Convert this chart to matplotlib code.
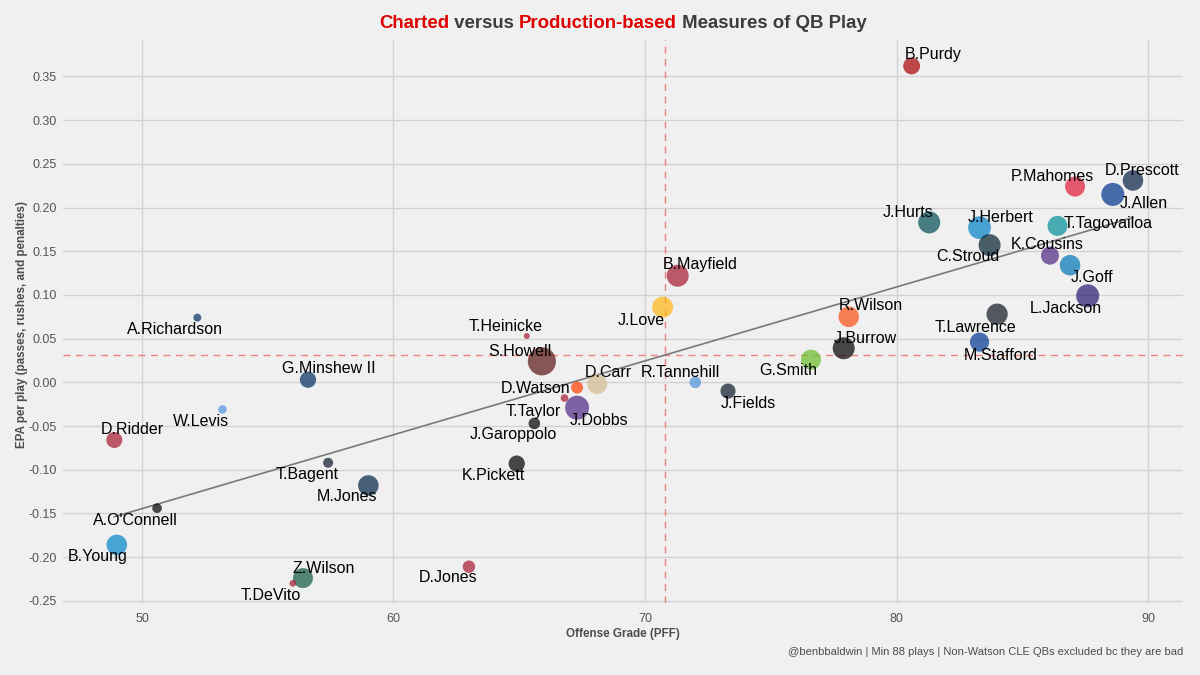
import matplotlib
matplotlib.use("Agg")
import matplotlib.pyplot as plt
import numpy as np

# ---------------- data ----------------
players = ["B.Purdy", "P.Mahomes", "D.Prescott", "J.Allen", "J.Hurts", "J.Herbert",
           "T.Tagovailoa", "C.Stroud", "K.Cousins", "J.Goff", "L.Jackson", "T.Lawrence",
           "M.Stafford", "R.Wilson", "J.Burrow", "G.Smith", "B.Mayfield", "J.Love",
           "T.Heinicke", "S.Howell", "D.Carr", "R.Tannehill", "J.Fields", "D.Watson",
           "T.Taylor", "J.Dobbs", "J.Garoppolo", "K.Pickett", "D.Jones", "A.Richardson",
           "G.Minshew II", "W.Levis", "D.Ridder", "T.Bagent", "M.Jones", "A.O'Connell",
           "B.Young", "Z.Wilson", "T.DeVito"]

offense_grade = [80.6, 87.1, 89.4, 88.6, 81.3, 83.3,
                 86.4, 83.7, 86.1, 86.9, 87.6, 84.0,
                 83.3, 78.1, 77.9, 76.6, 71.3, 70.7,
                 65.3, 65.9, 68.1, 72.0, 73.3, 67.3,
                 66.8, 67.3, 65.6, 64.9, 63.0, 52.2,
                 56.6, 53.2, 48.9, 57.4, 59.0, 50.6,
                 49.0, 56.4, 56.0]

epa_per_play = [0.362, 0.224, 0.231, 0.215, 0.183, 0.177,
                0.179, 0.157, 0.145, 0.134, 0.099, 0.078,
                0.046, 0.075, 0.039, 0.026, 0.122, 0.086,
                0.053, 0.024, -0.002, 0.000, -0.010, -0.006,
                -0.018, -0.029, -0.047, -0.093, -0.211, 0.074,
                0.003, -0.031, -0.066, -0.092, -0.118, -0.144,
                -0.186, -0.224, -0.230]

plays = [270, 354, 370, 450, 415, 440,
         354, 415, 300, 370, 450, 390,
         330, 370, 415, 354, 415, 380,
         88, 640, 354, 160, 230, 167,
         105, 480, 160, 255, 175, 108,
         255, 115, 249, 135, 370, 130,
         370, 354, 95]

team_colors = ["#AA0000", "#E31837", "#041E42", "#00338D", "#004C54", "#0080C6",
               "#008E97", "#03202F", "#4F2683", "#0076B6", "#241773", "#101820",
               "#003594", "#FB4F14", "#000000", "#69BE28", "#A71930", "#FFB612",
               "#A71930", "#5A1414", "#D3BC8D", "#4B92DB", "#0B162A", "#FF3C00",
               "#A71930", "#4F2683", "#000000", "#000000", "#A71930", "#002C5F",
               "#002C5F", "#4B92DB", "#A71930", "#0B162A", "#002244", "#000000",
               "#0085CA", "#125740", "#A71930"]

mean_grade = 70.8
mean_epa = 0.031

x_ticks = [50, 60, 70, 80, 90]
y_ticks = [-0.25, -0.20, -0.15, -0.10, -0.05, 0.00, 0.05, 0.10, 0.15, 0.20, 0.25, 0.30, 0.35]

title_parts = [("Charted", "#E00000"), (" versus ", "#3C3C3C"),
               ("Production-based", "#E00000"), (" Measures of QB Play", "#3C3C3C")]
x_title = "Offense Grade (PFF)"
y_title = "EPA per play (passes, rushes, and penalties)"
caption = "@benbbaldwin | Min 88 plays | Non-Watson CLE QBs excluded bc they are bad"

# label offsets in pixels (dx right, dy up) relative to each point
label_offsets = {
    "B.Purdy": (22, 11), "P.Mahomes": (-23, 10), "D.Prescott": (9, 10), "J.Allen": (31, -9),
    "J.Hurts": (-21, 10), "J.Herbert": (21, 10), "T.Tagovailoa": (51, 2), "C.Stroud": (-22, -11),
    "K.Cousins": (-3, 11), "J.Goff": (22, -12), "L.Jackson": (-22, -13), "T.Lawrence": (-22, -13),
    "M.Stafford": (21, -13), "R.Wilson": (22, 11), "J.Burrow": (22, 10), "G.Smith": (-23, -11),
    "B.Mayfield": (22, 11), "J.Love": (-21, -13), "T.Heinicke": (-21, 10), "S.Howell": (-22, 10),
    "D.Carr": (11, 12), "R.Tannehill": (-15, 10), "J.Fields": (20, -12), "D.Watson": (-42, -1),
    "T.Taylor": (-31, -13), "J.Dobbs": (22, -13), "J.Garoppolo": (-21, -11), "K.Pickett": (-23, -12),
    "D.Jones": (-21, -11), "A.Richardson": (-22, -12), "G.Minshew II": (21, 11), "W.Levis": (-21, -12),
    "D.Ridder": (18, 11), "T.Bagent": (-21, -12), "M.Jones": (-21, -11), "A.O'Connell": (-22, -12),
    "B.Young": (-19, -12), "Z.Wilson": (21, 10), "T.DeVito": (-22, -12),
}

# ---------------- figure ----------------
BG = "#F0F0F0"
plt.rcParams["font.family"] = ["Liberation Sans", "DejaVu Sans"]

W, H = 1200, 675
P_LEFT, P_RIGHT, P_TOP, P_BOTTOM = 63, 1183, 40, 603

fig = plt.figure(figsize=(12, 6.75), dpi=100, facecolor=BG)
ax = fig.add_axes([P_LEFT / W, 1 - P_BOTTOM / H, (P_RIGHT - P_LEFT) / W, (P_BOTTOM - P_TOP) / H])
ax.set_facecolor(BG)

ax.set_xlim(46.86, 91.39)
ax.set_ylim(-0.2525, 0.3917)
ax.set_xticks(x_ticks)
ax.set_yticks(y_ticks)
ax.set_xticklabels([str(v) for v in x_ticks])
ax.set_yticklabels([f"{v:.2f}" for v in y_ticks])
ax.grid(True, color="#D2D2D2", linewidth=1.0)
ax.set_axisbelow(True)
for s in ax.spines.values():
    s.set_visible(False)
ax.tick_params(axis="both", length=0, labelsize=9, colors="#555555")
ax.tick_params(axis="y", pad=4.3)
ax.tick_params(axis="x", pad=7)

# reference lines
ax.axvline(mean_grade, color="#F08080", linestyle=(0, (5, 4)), linewidth=1.0, zorder=1)
ax.axhline(mean_epa, color="#F08080", linestyle=(0, (5, 4)), linewidth=1.0, zorder=1)

xg = np.array(offense_grade)
ye = np.array(epa_per_play)
pl = np.array(plays, dtype=float)

# regression line
coef = np.polyfit(xg, ye, 1)
xs = np.array([xg.min(), xg.max()])
ax.plot(xs, np.polyval(coef, xs), color="#7A7A7A", linewidth=1.2, zorder=2)

# bubble size from plays (area scaled)
r_px = np.sqrt(np.clip(9 + (pl - 88) * 0.342, 4, None))
sizes = (2 * r_px * 0.72) ** 2
ax.scatter(xg, ye, s=sizes, c=team_colors, alpha=0.7, linewidths=0, zorder=3)

for name, x, y in zip(players, offense_grade, epa_per_play):
    dx, dy = label_offsets[name]
    ax.annotate(name, (x, y), xytext=(dx, dy), textcoords="offset pixels",
                ha="center", va="center", fontsize=11.5, color="#000000", zorder=4)

ax.set_xlabel(x_title, fontsize=8.4, fontweight="bold", color="#4D4D4D")
ax.set_ylabel(y_title, fontsize=8.4, fontweight="bold", color="#4D4D4D")
ax.xaxis.set_label_coords((623 - P_LEFT) / (P_RIGHT - P_LEFT), -(634 - P_BOTTOM) / (P_BOTTOM - P_TOP))
ax.xaxis.label.set_va("center")
ax.yaxis.set_label_coords(-(P_LEFT - 22) / (P_RIGHT - P_LEFT), (P_BOTTOM - 325) / (P_BOTTOM - P_TOP))
ax.yaxis.label.set_va("center")

# multi-colored title
fig.canvas.draw()
renderer = fig.canvas.get_renderer()
texts = []
widths = []
for txt, col in title_parts:
    t = fig.text(0, 0, txt, fontsize=13.4, fontweight="bold", color=col, ha="left", va="center")
    bb = t.get_window_extent(renderer=renderer)
    texts.append(t)
    widths.append(bb.width)
total = sum(widths)
center_px = (P_LEFT + P_RIGHT) / 2
x0 = center_px - total / 2
for t, w in zip(texts, widths):
    t.set_position((x0 / W, 1 - 23 / H))
    x0 += w

fig.text(P_RIGHT / W, 1 - 652 / H, caption, fontsize=8.05, color="#4D4D4D",
         ha="right", va="center")

fig.savefig("out.png", dpi=100, facecolor=BG)
